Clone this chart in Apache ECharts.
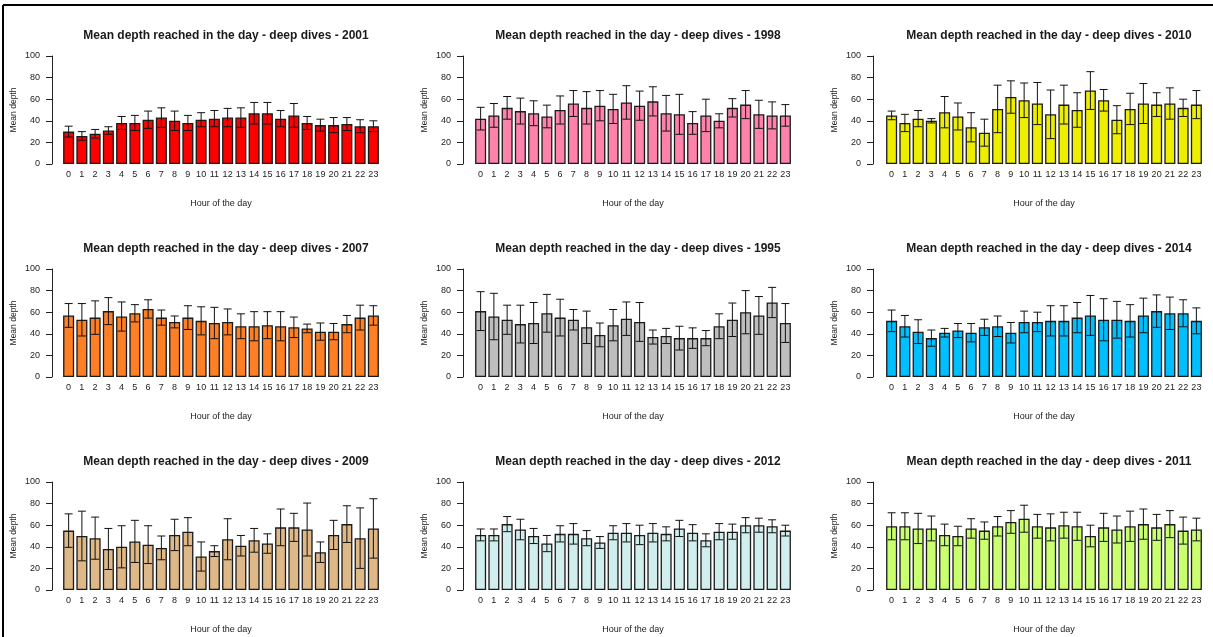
<!DOCTYPE html>
<html>
<head>
<meta charset="utf-8">
<script src="https://cdn.jsdelivr.net/npm/echarts@6/dist/echarts.min.js"></script>
<style>
html,body{margin:0;padding:0;background:#fff;}
#chart{width:1213px;height:637px;}
</style>
</head>
<body>
<div id="chart"></div>
<script>
const hours = ['0','1','2','3','4','5','6','7','8','9','10','11','12','13','14','15','16','17','18','19','20','21','22','23'];
const yTicks = [0, 20, 40, 60, 80, 100];

const years = ['2001', '1998', '2010', '2007', '1995', '2014', '2009', '2012', '2011'];

const mean2001 = [30,26,28,31,38,38,41,43,40,38,41,42,43,43,47,47,42,45,38,36,36,37,35,35];
const err2001  = [5,4,4,3.5,6,7,8,9,9,7,6.5,7.5,8.5,9,10,10,7.5,11,6,5.5,7,6,6,5];

const mean1998 = [42,45,52,49,47,44,50,56,52,54,51,57,54,58,47,46,38,45,40,52,55,46,45,45];
const err1998  = [10.5,11,10.5,12,11.5,10.5,13,12,15,14,13.5,15.5,13.5,13.5,16.5,18.5,10.5,15,6.5,8.5,13,13,12.5,10];

const mean2010 = [45,38,42,40,48,44,34,29,51,62,59,56,46,55,50,68,59,41,51,56,55,56,52,55];
const err2010  = [4,8,7.5,2,14.5,12.5,13.5,12.5,22,15,16,19.5,22.5,18,16,17.5,10,13,14.5,18.5,11,14.5,8,13];

const mean2007 = [57,53,55,61,56,59,63,55,51,55,52,50,51,47,47,48,47,46,45,42,42,49,55,57];
const err2007  = [11,15,15.5,12.5,13.5,8,8.5,7,5.5,11,13,14.5,12,11.5,13.5,12.5,13.5,9.5,4,8,7.5,8,11.5,9];

const mean1995 = [61,56,53,49,50,59,55,53,46,39,48,54,51,37,38,36,36,36,47,53,60,57,69,50];
const err1995  = [18,21.5,13.5,17.5,19,17.5,17,9.5,15,11,14.5,15.5,18,6.5,7,11,9.5,7,11.5,15.5,20,17.5,14,18];

const mean2014 = [52,47,42,36,41,43,41,46,47,41,51,51,52,52,55,57,53,53,52,57,61,59,59,52];
const err2014  = [10,10,11,7.5,4,6.5,8.5,7.5,9.5,9.5,10,9,14,14,14,18.5,19.5,17,15,16,15,15,12.5,12];

const mean2009 = [55,50,48,38,40,45,42,39,51,54,31,36,47,41,46,43,58,58,56,35,51,61,48,57];
const err2009  = [15.5,23,19.5,19,19.5,19.5,17.5,11,14.5,13,13.5,5,19,9.5,11,9,17,13,24.5,9.5,13.5,17,28,27.5];

const mean2012 = [51,51,61,56,50,43,52,52,48,44,53,53,51,53,52,57,53,46,54,54,60,60,59,55];
const err2012  = [5.5,5.5,7,9.5,7,7.5,7.5,9.5,7,5.5,6.5,8.5,9,8.5,6.5,7.5,7.5,6,7.5,7,7,6.5,6,5];

const mean2011 = [59,59,57,57,51,50,57,55,59,63,66,59,58,60,59,50,58,56,59,61,58,61,55,56];
const err2011  = [12.5,12.5,14,11.5,10,9,9,8,9,10.5,12.5,11,12.5,12,13,10,13,12.5,14,14,12,12.5,12.5,10.5];

const means = [mean2001, mean1998, mean2010, mean2007, mean1995, mean2014, mean2009, mean2012, mean2011];
const errs  = [err2001, err1998, err2010, err2007, err1995, err2014, err2009, err2012, err2011];
const colors = ['#FF0000', '#FF82AB', '#EEEE00', '#FF7F24', '#BEBEBE', '#00BFFF', '#DEB887', '#D1EEEE', '#CAFF70'];

const colLeft = [62, 474, 885];
const colOffset = [10, 11, 12];
const rowTop = [56, 269, 482];
const gridW = 318, gridH = 108;

const grids = [], xAxes = [], yAxes = [], series = [], titles = [];
for (let k = 0; k < 9; k++) {
  const r = Math.floor(k / 3), c = k % 3;
  grids.push({left: colLeft[c], top: rowTop[r], width: gridW, height: gridH, containLabel: false});
  titles.push({
    text: 'Mean depth reached in the day - deep dives - ' + years[k],
    left: colLeft[c] + gridW / 2, top: rowTop[r] - 31, textAlign: 'center',
    textStyle: {fontFamily: 'Liberation Sans', fontSize: 12, fontWeight: 'bold', color: '#1a1a1a'}
  });
  xAxes.push({
    type: 'category', gridIndex: k, data: hours,
    axisLine: {show: false}, axisTick: {show: false},
    axisLabel: {interval: 0, margin: 6, fontFamily: 'Liberation Sans', fontSize: 9, color: '#222'},
    name: 'Hour of the day', nameLocation: 'middle', nameGap: 35,
    nameTextStyle: {fontFamily: 'Liberation Sans', fontSize: 9, color: '#222'}
  });
  yAxes.push({
    type: 'value', gridIndex: k, min: yTicks[0], max: yTicks[yTicks.length - 1], interval: 20,
    offset: colOffset[c],
    axisLine: {show: true, lineStyle: {color: '#222', width: 1}},
    axisTick: {show: true, length: 6, lineStyle: {color: '#222'}},
    splitLine: {show: false},
    axisLabel: {margin: 12, fontFamily: 'Liberation Sans', fontSize: 9, color: '#222'},
    name: 'Mean depth', nameLocation: 'middle', nameGap: 34, nameRotate: 90,
    nameTextStyle: {fontFamily: 'Liberation Sans', fontSize: 8.5, color: '#222'}
  });
  series.push({
    type: 'bar', xAxisIndex: k, yAxisIndex: k, data: means[k],
    barCategoryGap: '16.7%',
    itemStyle: {color: colors[k], borderColor: '#1a1a1a', borderWidth: 1.3},
    emphasis: {disabled: true}, silent: true, animation: false
  });
  series.push({
    type: 'custom', xAxisIndex: k, yAxisIndex: k, z: 5, silent: true, animation: false,
    data: means[k].map((m, i) => [i, m - errs[k][i], m + errs[k][i]]),
    encode: {x: 0, y: [1, 2]},
    renderItem: function (params, api) {
      const x = api.value(0);
      const lo = api.coord([x, api.value(1)]);
      const hi = api.coord([x, api.value(2)]);
      const hw = 4;
      const st = {stroke: '#111', lineWidth: 1};
      return {
        type: 'group',
        children: [
          {type: 'line', shape: {x1: lo[0], y1: lo[1], x2: hi[0], y2: hi[1]}, style: st},
          {type: 'line', shape: {x1: hi[0] - hw, y1: hi[1], x2: hi[0] + hw, y2: hi[1]}, style: st},
          {type: 'line', shape: {x1: lo[0] - hw, y1: lo[1], x2: lo[0] + hw, y2: lo[1]}, style: st}
        ]
      };
    }
  });
}

const chart = echarts.init(document.getElementById('chart'), null, {renderer: 'canvas'});
chart.setOption({
  backgroundColor: '#ffffff',
  animation: false,
  title: titles,
  grid: grids,
  xAxis: xAxes,
  yAxis: yAxes,
  series: series,
  graphic: [
    {type: 'line', shape: {x1: 3, y1: 5, x2: 1213, y2: 5}, style: {stroke: '#000', lineWidth: 2}},
    {type: 'line', shape: {x1: 3, y1: 5, x2: 3, y2: 637}, style: {stroke: '#000', lineWidth: 2}}
  ]
});
</script>
</body>
</html>
